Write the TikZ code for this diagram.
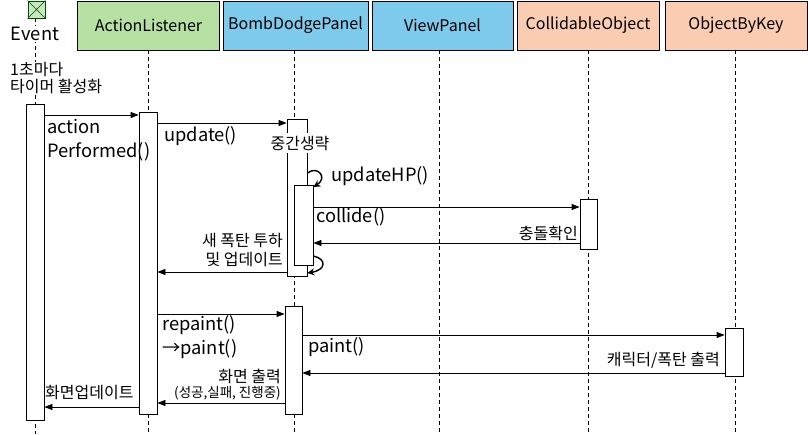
\documentclass[tikz,border=0pt]{standalone}
\usepackage{fontspec}
\setmainfont{Noto Sans CJK KR}
\usetikzlibrary{arrows.meta}
\definecolor{hgreen}{RGB}{183,225,163}
\definecolor{hblue}{RGB}{126,202,236}
\definecolor{hpeach}{RGB}{250,205,178}
\definecolor{igreen}{RGB}{200,232,190}
\tikzset{
  head/.style={draw=black, line width=0.8pt, minimum width=142pt, minimum height=49pt, inner sep=0pt, font=\fontsize{16}{18}\selectfont},
  life/.style={line width=0.7pt, dash pattern=on 4pt off 3pt},
  bar/.style={draw=black, fill=white, line width=0.8pt, minimum width=18pt, inner sep=0pt, anchor=north},
  msg/.style={line width=0.8pt, -{Triangle[length=8pt,width=6pt]}},
  selfarr/.style={line width=1.4pt, -{Stealth[length=7pt,width=7pt]}},
  lbl/.style={inner sep=0pt, font=\fontsize{18.3}{20}\selectfont},
  klbl/.style={inner sep=0pt, font=\fontsize{16}{18}\selectfont},
  slbl/.style={inner sep=0pt, font=\fontsize{13.5}{15}\selectfont},
}
\begin{document}
\begin{tikzpicture}[x=1pt,y=1pt]
\useasboundingbox[fill=white] (0,0) rectangle (808,-434);
% lifelines
\draw[life] (35,-18) coordinate (ev0) -- (35,-434) coordinate (ev1);
\draw[life] (148,-50) -- (148,-434);
\draw[life] (294,-50) -- (294,-434);
\draw[life] (439,-50) -- (439,-434);
\draw[life] (588,-50) -- (588,-434);
\draw[life] (735,-50) -- (735,-434);
% headers
\node[head, fill=hgreen] (al) at (148.5,-25.5) {ActionListener};
\node[head, fill=hblue, minimum width=145pt] (bd) at (295.5,-25.5) {BombDodgePanel};
\node[head, fill=hblue, minimum width=141pt] (vp) at (442.5,-25.5) {ViewPanel};
\node[head, fill=hpeach] (co) at (588,-25.5) {CollidableObject};
\node[head, fill=hpeach] (ob) at (736,-25.5) {ObjectByKey};
% event icon
\node[draw=black!70!green, fill=igreen, line width=0.8pt, minimum size=17pt, inner sep=0pt] (evicon) at (36.5,-9.5) {};
\draw[black!70!green, line width=0.7pt] (evicon.north west) -- (evicon.south east) (evicon.north east) -- (evicon.south west);
\node[fill=white, inner sep=1pt, font=\fontsize{18.3}{20}\selectfont] (evtxt) at (35,-34) {Event};
\node[klbl, fill=white, anchor=west, align=left] (evnote) at (10,-78) {1초마다\\[-1pt]타이머 활성화};
% activation bars
\node[bar, minimum height=316pt] (evbar) at (35,-104) {};
\node[bar, minimum height=302pt] (albar) at (148,-112) {};
\node[bar, minimum width=20pt, minimum height=157pt] (bd1) at (297,-119) {};
\node[klbl, fill=white, inner ysep=3pt] (skip) at (300,-143) {중간생략};
\node[bar, minimum width=19pt, minimum height=80pt] (bd2) at (303.5,-185) {};
\node[bar, minimum width=17pt, minimum height=108pt] (bd3) at (293.5,-306) {};
\node[bar, minimum width=17pt, minimum height=50pt] (cobar) at (588.5,-199) {};
\node[bar, minimum width=18pt, minimum height=48pt] (obbar) at (734,-328) {};
% messages
\draw[msg] (evbar.east |- 0,-115) -- (albar.west |- 0,-115);
\node[lbl, anchor=west] (m1a) at (47,-127) {action};
\node[lbl, anchor=west] (m1b) at (47,-152) {Performed()};
\draw[msg] (albar.east |- 0,-123) -- (bd1.west |- 0,-123);
\node[lbl, anchor=west] (m2) at (164,-136) {update()};
\draw[selfarr] (bd1.east |- 0,-173) .. controls (318,-165) and (328,-178) .. (bd2.east |- 0,-187);
\node[lbl, anchor=west] (m3) at (331,-176) {updateHP()};
\draw[msg] (bd2.east |- 0,-207) -- (cobar.west |- 0,-207);
\node[lbl, anchor=west] (m4) at (316,-217) {collide()};
\draw[msg] (cobar.west |- 0,-243) -- (bd2.east |- 0,-243);
\node[klbl, anchor=east] (m5) at (578,-233) {충돌확인};
\draw[selfarr] (bd2.east |- 0,-256) .. controls (327,-259) and (326,-270) .. (bd1.east |- 0,-273);
\draw[msg] (bd1.west |- 0,-272) -- (albar.east |- 0,-272);
\node[klbl, anchor=east] (m6a) at (283,-241) {새 폭탄 투하};
\node[klbl, anchor=east] (m6b) at (283,-260) {및 업데이트};
\draw[msg] (albar.east |- 0,-314) -- (bd3.west |- 0,-314);
\node[lbl, anchor=west] (m7a) at (162,-325) {repaint()};
\node[lbl, anchor=west] (m7b) at (162,-349) {→paint()};
\draw[msg] (bd3.east |- 0,-335) -- (obbar.west |- 0,-335);
\node[lbl, anchor=west] (m8) at (308,-347) {paint()};
\draw[msg] (obbar.west |- 0,-373) -- (bd3.east |- 0,-373);
\node[klbl, anchor=east] (m9) at (720,-360) {캐릭터/폭탄 출력};
\draw[msg] (bd3.west |- 0,-403) -- (albar.east |- 0,-403);
\node[klbl, anchor=east] (m10a) at (281,-376) {화면 출력};
\node[slbl, anchor=east] (m10b) at (281,-393) {(성공,실패, 진행중)};
\draw[msg] (albar.west |- 0,-407) -- (evbar.east |- 0,-407);
\node[klbl, anchor=west] (m11) at (45,-393) {화면업데이트};
\end{tikzpicture}
\end{document}
